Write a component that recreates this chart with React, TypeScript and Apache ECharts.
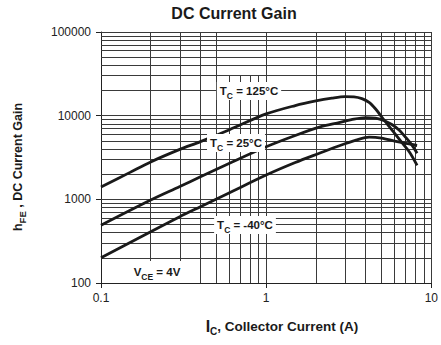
import React, { useEffect, useRef } from "react";
import * as echarts from "echarts";

// ---- Data ----
// Collector current (A) and DC current gain for each case temperature
const currentHot = [0.1, 0.15, 0.2, 0.3, 0.4, 0.6, 1.0, 1.5, 2.0, 2.5, 3.0, 3.4, 3.8, 4.2, 4.6, 5.0, 5.5, 6.0, 6.7, 7.4, 8.2];
const gainHot = [1400, 2100, 2800, 3950, 4900, 6800, 10500, 13200, 15000, 16200, 16900, 16800, 16000, 14400, 12000, 9700, 7600, 6150, 4650, 3630, 2550];

const currentRoom = [0.1, 0.2, 0.3, 0.4, 0.6, 1.0, 1.5, 2.1, 2.8, 3.4, 4.0, 4.6, 5.2, 5.8, 6.4, 7.0, 7.6, 8.2];
const gainRoom = [490, 980, 1420, 1860, 2700, 4250, 5800, 7300, 8300, 9100, 9500, 9350, 8700, 7800, 6700, 5500, 4500, 3550];

const currentCold = [0.1, 0.2, 0.3, 0.4, 0.6, 1.0, 1.5, 2.1, 2.8, 3.5, 4.2, 5.0, 6.0, 7.0, 8.2];
const gainCold = [200, 410, 620, 816, 1200, 1950, 2750, 3550, 4400, 5100, 5550, 5400, 4950, 4650, 4400];

const xMin = 0.1;
const xMax = 10;
const yMin = 100;
const yMax = 100000;

// grid lines (datasheet-style log grid)
const xGridLines = [0.2, 0.3, 0.4, 0.5, 1, 2, 3, 4, 5, 6, 7, 8, 9, 10];
const xShortGridLines = [0.6, 0.7, 0.8, 0.9];
const shortGridTop = 30000;
const yGridLines = [
  200, 300, 400, 500, 600, 700, 800, 900, 1000,
  2000, 3000, 4000, 5000, 6000, 7000, 8000, 9000, 10000,
  20000, 30000, 40000, 50000, 60000, 70000, 80000, 90000, 100000,
];

const FONT = '"Liberation Sans", Arial, Helvetica, sans-serif';

export default function App() {
  const ref = useRef<HTMLDivElement>(null);

  useEffect(() => {
    const chart = echarts.init(ref.current!, null, { renderer: "svg" });

    const gridMarks: any[] = [
      ...xGridLines.map((v) => ({ xAxis: v })),
      ...yGridLines.map((v) => ({ yAxis: v })),
      ...xShortGridLines.map((v) => [{ coord: [v, yMin] }, { coord: [v, shortGridTop] }]),
    ];

    const curveStyle = { color: "#1a1a1a", width: 2.8 };
    const mk = (xs: number[], ys: number[]) => xs.map((x, i) => [x, ys[i]]);

    const subRich = (size: number) => ({
      m: { fontSize: size, fontWeight: "bold", fontFamily: FONT, lineHeight: 18, fill: "#1a1a1a", color: "#1a1a1a" },
      s: {
        fontSize: size - 3,
        fontWeight: "bold",
        fontFamily: FONT,
        lineHeight: 10,
        padding: [4, 0, 0, 0],
        verticalAlign: "bottom",
        fill: "#1a1a1a",
        color: "#1a1a1a",
      },
    });

    const label = (x: number, y: number, text: string, pad: number[] = [0, 3, 0, 3]) => ({
      type: "text",
      x,
      y,
      z: 100,
      style: {
        text,
        rich: subRich(11.5),
        align: "center",
        verticalAlign: "middle",
        backgroundColor: "#fff",
        padding: pad,
      },
    });

    const curve = (name: string, xs: number[], ys: number[]) => ({
      type: "line",
      name,
      data: mk(xs, ys),
      smooth: 0.3,
      showSymbol: false,
      lineStyle: curveStyle,
      itemStyle: { color: "#1a1a1a" },
      z: 5,
    });

    chart.setOption({
      animation: false,
      backgroundColor: "#fff",
      grid: { left: 101, right: 9, top: 32, bottom: 62, containLabel: false },
      xAxis: {
        type: "log",
        logBase: 10,
        min: xMin,
        max: xMax,
        axisLine: { show: true, lineStyle: { color: "#222", width: 1 } },
        axisTick: { show: true, length: 5, inside: false, lineStyle: { color: "#222" } },
        splitLine: { show: false },
        minorTick: { show: false },
        axisLabel: {
          margin: 9,
          fontSize: 12,
          fontFamily: FONT,
          color: "#222",
          formatter: (v: number) => (v < 1 ? (Math.round(v * 10) / 10).toString() : String(Math.round(v))),
        },
      },
      yAxis: {
        type: "log",
        logBase: 10,
        min: yMin,
        max: yMax,
        axisLine: { show: true, lineStyle: { color: "#222", width: 1 } },
        axisTick: { show: true, length: 5, inside: false, lineStyle: { color: "#222" } },
        splitLine: { show: false },
        minorTick: { show: false },
        axisLabel: {
          margin: 10,
          fontSize: 12,
          fontFamily: FONT,
          color: "#222",
          formatter: (v: number) => String(Math.round(v)),
        },
      },
      series: [
        {
          type: "line",
          name: "grid",
          data: [],
          z: 1,
          silent: true,
          markLine: {
            silent: true,
            symbol: ["none", "none"],
            label: { show: false },
            lineStyle: { color: "#3a3a3a", width: 1, type: "solid" },
            emphasis: { disabled: true },
            data: gridMarks,
          },
        },
        curve("TC = 125°C", currentHot, gainHot),
        curve("TC = 25°C", currentRoom, gainRoom),
        curve("TC = -40°C", currentCold, gainCold),
      ],
      graphic: [
        {
          type: "text",
          x: 234,
          y: 13,
          style: {
            text: "DC Current Gain",
            font: `bold 16px ${FONT}`,
            fill: "#1a1a1a",
            align: "center",
            verticalAlign: "middle",
          },
        },
        {
          type: "text",
          x: 282,
          y: 326,
          style: {
            text: "{i|I}{s|C}{m|, Collector Current (A)}",
            rich: {
              i: { fontSize: 16, fontWeight: "bold", fontFamily: FONT, lineHeight: 20, fill: "#1a1a1a" },
              m: { fontSize: 13.5, fontWeight: "bold", fontFamily: FONT, lineHeight: 20, fill: "#1a1a1a" },
              s: {
                fontSize: 10,
                fontWeight: "bold",
                fontFamily: FONT,
                lineHeight: 11,
                padding: [4, 0, 0, 0],
                verticalAlign: "bottom",
                fill: "#1a1a1a",
              },
            },
            align: "center",
            verticalAlign: "middle",
          },
        },
        {
          type: "text",
          x: 18,
          y: 167,
          rotation: Math.PI / 2,
          style: {
            text: "{m|h}{s|FE}{m| , DC Current Gain}",
            rich: {
              m: { fontSize: 12.5, fontWeight: "bold", fontFamily: FONT, lineHeight: 18, fill: "#1a1a1a" },
              s: {
                fontSize: 9.5,
                fontWeight: "bold",
                fontFamily: FONT,
                lineHeight: 10,
                padding: [4, 0, 0, 0],
                verticalAlign: "bottom",
                fill: "#1a1a1a",
              },
            },
            align: "center",
            verticalAlign: "middle",
          },
        },
        label(249, 91, "{m|T}{s|C}{m| = 125°C}"),
        label(236, 143, "{m|T}{s|C}{m| = 25°C}"),
        label(245, 225, "{m|T}{s|C}{m| = -40°C}"),
        label(157, 272, "{m|V}{s|CE}{m| = 4V}", [2, 8, 2, 8]),
      ],
    });

    return () => chart.dispose();
  }, []);

  return (
    <div
      ref={ref}
      style={{ position: "fixed", left: 0, top: 0, width: 441, height: 345, background: "#fff" }}
    />
  );
}
